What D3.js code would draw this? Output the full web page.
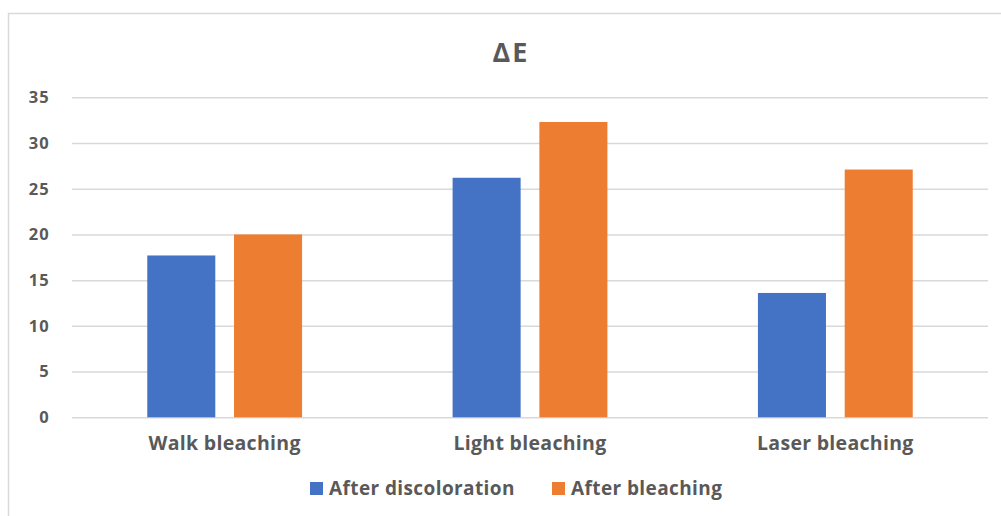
<!DOCTYPE html>
<html>
<head>
<meta charset="utf-8">
<script src="https://cdn.jsdelivr.net/npm/d3@7"></script>
<style>
  html, body { margin: 0; padding: 0; background: #fff; }
  svg { display: block; }
  text { font-family: "Open Sans", "DejaVu Sans", sans-serif; }
</style>
</head>
<body>
<svg id="chart" width="1001" height="516"></svg>
<script>
const categories = ["Walk bleaching", "Light bleaching", "Laser bleaching"];
const seriesNames = ["After discoloration", "After bleaching"];
const afterDiscoloration = [17.7, 26.2, 13.6];
const afterBleaching = [20.0, 32.3, 27.1];
const yTicks = [0, 5, 10, 15, 20, 25, 30, 35];
const colors = ["#4472C4", "#ED7D31"];
const title = "ΔE";

const seriesValues = [afterDiscoloration, afterBleaching];
const data = categories.map((c, i) => ({
  category: c,
  values: seriesNames.map((s, j) => ({ series: s, value: seriesValues[j][i] }))
}));

const svg = d3.select("#chart");
const plot = { left: 72, right: 988, top: 97.3, bottom: 417.3 };

// outer frame
svg.append("rect")
  .attr("x", 8.5).attr("y", 13.5)
  .attr("width", 1010).attr("height", 520)
  .attr("fill", "#fff")
  .attr("stroke", "#d9d9d9").attr("stroke-width", 1.5);

const y = d3.scaleLinear().domain([0, 35]).range([plot.bottom, plot.top]);
const x0 = d3.scaleBand().domain(categories)
  .range([plot.left, plot.right])
  .paddingInner(0.493).paddingOuter(0.2465);
const x1 = d3.scaleBand().domain(seriesNames)
  .range([0, x0.bandwidth()])
  .paddingInner(0.216).paddingOuter(0);
const color = d3.scaleOrdinal().domain(seriesNames).range(colors);

// gridlines
const yAxis = d3.axisLeft(y).tickValues(yTicks)
  .tickSize(-(plot.right - plot.left)).tickPadding(22)
  .tickFormat(d3.format("d"));
const gy = svg.append("g")
  .attr("transform", `translate(${plot.left},0)`)
  .call(yAxis);
gy.select(".domain").remove();
gy.selectAll(".tick line")
  .attr("stroke", "#d9d9d9").attr("stroke-width", 1.5);
gy.selectAll(".tick text")
  .attr("fill", "#595959")
  .attr("font-size", 16.5)
  .attr("letter-spacing", 1.2)
  .attr("font-weight", "bold");

// bars
const groups = svg.append("g").selectAll("g")
  .data(data).join("g")
  .attr("transform", d => `translate(${x0(d.category)},0)`);
groups.selectAll("rect")
  .data(d => d.values).join("rect")
  .attr("x", d => x1(d.series))
  .attr("y", d => y(d.value))
  .attr("width", x1.bandwidth())
  .attr("height", d => y(0) - y(d.value))
  .attr("fill", d => color(d.series));

// category axis labels
const xAxis = d3.axisBottom(x0).tickSize(0).tickPadding(19);
const gx = svg.append("g")
  .attr("transform", `translate(0,${plot.bottom})`)
  .call(xAxis);
gx.select(".domain").remove();
gx.selectAll(".tick text")
  .attr("fill", "#595959")
  .attr("font-size", 19.5)
  .attr("letter-spacing", 0.3)
  .attr("font-weight", "bold");

// title
svg.append("text")
  .attr("x", 511).attr("y", 62)
  .attr("text-anchor", "middle")
  .attr("fill", "#595959")
  .attr("font-size", 27)
  .attr("letter-spacing", 2)
  .attr("font-weight", "bold")
  .text(title);

// legend
const legendItems = [
  { name: seriesNames[0], x: 310 },
  { name: seriesNames[1], x: 552 }
];
const lg = svg.append("g").selectAll("g")
  .data(legendItems).join("g")
  .attr("transform", d => `translate(${d.x},482)`);
lg.append("rect")
  .attr("width", 13).attr("height", 13)
  .attr("fill", d => color(d.name));
lg.append("text")
  .attr("x", 19).attr("y", 13)
  .attr("fill", "#595959")
  .attr("font-size", 19)
  .attr("letter-spacing", 0.4)
  .attr("font-weight", "bold")
  .text(d => d.name);
</script>
</body>
</html>
